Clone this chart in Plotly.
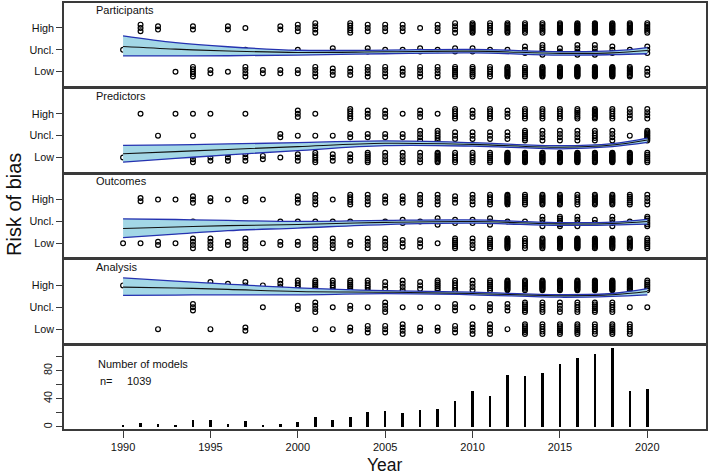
import plotly.graph_objects as go

FONT = "Liberation Sans, Arial, sans-serif"

years = list(range(1990, 2021))

# number of models per year (bottom panel)
n_models = [2, 5, 4, 3, 10, 10, 4, 8, 3, 4, 7, 14, 10, 14, 21, 22, 20, 23, 25, 37,
            50, 44, 74, 72, 76, 89, 98, 103, 111, 50, 53]

# risk-of-bias counts per year (1990..2020)
part_high = [0, 3, 2, 0, 2, 0, 2, 1, 0, 2, 3, 4, 0, 5, 3, 3, 3, 1, 3, 4, 8, 5, 8, 6, 6, 10, 12, 14, 12, 10, 6]
part_uncl = [1, 0, 0, 0, 0, 0, 1, 1, 0, 0, 1, 0, 2, 0, 2, 1, 1, 2, 1, 2, 2, 1, 1, 3, 5, 2, 4, 4, 3, 1, 3]
part_low = [0, 0, 0, 1, 5, 2, 1, 4, 2, 2, 2, 4, 3, 3, 4, 4, 3, 4, 4, 6, 6, 5, 10, 6, 10, 10, 14, 14, 14, 8, 3]

pred_high = [0, 1, 0, 1, 1, 1, 0, 1, 0, 0, 3, 1, 0, 5, 3, 3, 1, 3, 1, 5, 3, 5, 3, 5, 5, 5, 6, 8, 5, 4, 4]
pred_uncl = [0, 0, 1, 0, 1, 0, 0, 0, 0, 2, 1, 1, 1, 2, 2, 2, 2, 4, 5, 3, 3, 3, 3, 6, 4, 4, 4, 5, 4, 1, 8]
pred_low = [1, 1, 0, 0, 4, 3, 3, 3, 2, 1, 3, 5, 3, 3, 6, 4, 4, 4, 8, 5, 5, 6, 14, 10, 12, 12, 14, 12, 16, 10, 6]

out_high = [0, 2, 1, 1, 3, 2, 1, 2, 1, 0, 3, 4, 1, 5, 4, 3, 3, 4, 4, 3, 4, 5, 10, 6, 8, 8, 5, 8, 8, 6, 4]
out_uncl = [0, 0, 0, 0, 1, 0, 0, 0, 0, 1, 1, 1, 1, 1, 0, 1, 2, 1, 3, 2, 2, 3, 1, 1, 4, 6, 4, 2, 4, 1, 6]
out_low = [1, 1, 2, 1, 4, 4, 2, 4, 1, 2, 2, 4, 4, 2, 4, 4, 3, 3, 1, 6, 4, 6, 10, 5, 8, 10, 14, 10, 10, 8, 6]

ana_high = [1, 0, 0, 1, 1, 3, 2, 3, 1, 4, 5, 6, 5, 6, 5, 3, 4, 3, 6, 5, 4, 6, 12, 8, 12, 10, 12, 14, 14, 10, 6]
ana_uncl = [0, 0, 0, 0, 3, 0, 0, 0, 1, 0, 2, 4, 1, 2, 1, 4, 1, 1, 1, 3, 1, 3, 3, 6, 5, 4, 5, 6, 5, 1, 1]
ana_low = [0, 0, 1, 0, 0, 1, 0, 2, 0, 0, 0, 1, 1, 2, 3, 3, 4, 2, 2, 3, 4, 4, 1, 6, 5, 6, 6, 5, 6, 5, 0]

# smoothed trend and confidence band (Low=1, Uncl.=2, High=3)
fit_years = [1990, 1993, 1996, 2000, 2005, 2010, 2015, 2018, 2020]
part_fit = [2.15, 2.03, 1.95, 1.88, 1.91, 1.94, 1.84, 1.86, 1.97]
part_up = [2.64, 2.33, 2.14, 1.98, 1.99, 2.02, 1.92, 1.95, 2.10]
part_lo = [1.72, 1.72, 1.73, 1.76, 1.82, 1.86, 1.76, 1.78, 1.82]

pred_fit = [1.17, 1.27, 1.37, 1.50, 1.65, 1.60, 1.47, 1.57, 1.80]
pred_up = [1.56, 1.58, 1.62, 1.68, 1.76, 1.68, 1.54, 1.64, 1.89]
pred_lo = [0.79, 0.96, 1.12, 1.32, 1.54, 1.52, 1.40, 1.50, 1.69]

out_fit = [1.68, 1.75, 1.81, 1.86, 1.96, 2.00, 1.89, 1.91, 2.00]
out_up = [2.12, 2.09, 2.05, 2.00, 2.05, 2.07, 1.95, 1.97, 2.10]
out_lo = [1.26, 1.42, 1.58, 1.70, 1.86, 1.92, 1.82, 1.84, 1.88]

ana_fit = [2.92, 2.88, 2.82, 2.72, 2.69, 2.63, 2.53, 2.57, 2.72]
ana_up = [3.34, 3.20, 3.06, 2.89, 2.76, 2.69, 2.58, 2.63, 2.85]
ana_lo = [2.54, 2.56, 2.57, 2.57, 2.62, 2.57, 2.46, 2.50, 2.57]

panel_titles = ["Participants", "Predictors", "Outcomes", "Analysis"]
cat_labels = ["Low", "Uncl.", "High"]
year_ticks = [1990, 1995, 2000, 2005, 2010, 2015, 2020]
count_ticks = [0, 20, 40, 60, 80, 100]
count_ticktext = ["0", "", "40", "", "80", ""]

panels = [
    (part_low, part_uncl, part_high, part_fit, part_up, part_lo),
    (pred_low, pred_uncl, pred_high, pred_fit, pred_up, pred_lo),
    (out_low, out_uncl, out_high, out_fit, out_up, out_lo),
    (ana_low, ana_uncl, ana_high, ana_fit, ana_up, ana_lo),
]


def stack_offsets(n, step=0.15, hmax=0.22):
    if n <= 0:
        return []
    if n == 1:
        return [0.0]
    h = min(hmax, step * (n - 1) / 2)
    return [-h + 2 * h * k / (n - 1) for k in range(n)]


fig = go.Figure()

# layout geometry (pixels)
W, H = 709, 475
ML, MR, MT, MB = 64, 3, 3, 46
plot_h = H - MT - MB
gap = 3.1
ph = (plot_h - 4 * gap) / 5
domains = []
for i in range(5):
    top = i * (ph + gap)
    bot = top + ph
    domains.append([1 - bot / plot_h, 1 - top / plot_h])

BAND_FILL = "#A3D7E6"
BAND_EDGE = "#2532B0"
AX_COL = "#3a3a3a"

for i, (lo_c, un_c, hi_c, fit, up, low) in enumerate(panels):
    xa = "x" if i == 0 else f"x{i+1}"
    ya = "y" if i == 0 else f"y{i+1}"
    px, py = [], []
    for level, counts in ((1, lo_c), (2, un_c), (3, hi_c)):
        for yr, c in zip(years, counts):
            for off in stack_offsets(c):
                px.append(yr)
                py.append(level + off)
    fig.add_trace(go.Scatter(
        x=px, y=py, mode="markers", xaxis=xa, yaxis=ya,
        marker=dict(symbol="circle-open", size=4.8, color="black",
                    line=dict(width=1.2, color="black")),
        showlegend=False, hoverinfo="skip"))
    fig.add_trace(go.Scatter(
        x=fit_years, y=low, mode="lines", xaxis=xa, yaxis=ya,
        line=dict(color=BAND_EDGE, width=1.3, shape="spline"),
        showlegend=False, hoverinfo="skip"))
    fig.add_trace(go.Scatter(
        x=fit_years, y=up, mode="lines", xaxis=xa, yaxis=ya,
        fill="tonexty", fillcolor=BAND_FILL,
        line=dict(color=BAND_EDGE, width=1.3, shape="spline"),
        showlegend=False, hoverinfo="skip"))
    fig.add_trace(go.Scatter(
        x=fit_years, y=fit, mode="lines", xaxis=xa, yaxis=ya,
        line=dict(color="#111111", width=1.1, shape="spline"),
        showlegend=False, hoverinfo="skip"))

# bottom panel: number of models
fig.add_trace(go.Bar(
    x=years, y=n_models, xaxis="x5", yaxis="y5", width=0.15,
    marker=dict(color="black", line=dict(width=0)),
    showlegend=False, hoverinfo="skip"))

xrange = [1986.62, 2023.36]
layout = dict(
    width=W, height=H,
    margin=dict(l=ML, r=MR, t=MT, b=MB, autoexpand=False),
    paper_bgcolor="white", plot_bgcolor="white",
    font=dict(family=FONT, color="#111111", size=11),
    bargap=0,
)
for i in range(5):
    xk = "xaxis" if i == 0 else f"xaxis{i+1}"
    yk = "yaxis" if i == 0 else f"yaxis{i+1}"
    anchor_y = "y" if i == 0 else f"y{i+1}"
    anchor_x = "x" if i == 0 else f"x{i+1}"
    xa = dict(domain=[0, 1], range=xrange, anchor=anchor_y, automargin=False,
              showline=True, mirror=True, linecolor=AX_COL, linewidth=1.5,
              showgrid=False, zeroline=False, fixedrange=True)
    if i < 4:
        xa.update(showticklabels=False, ticks="")
    else:
        xa.update(tickvals=year_ticks, ticks="outside", ticklen=7, tickwidth=1,
                  tickcolor=AX_COL, tickfont=dict(size=11, family=FONT, color="#111111"))
    layout[xk] = xa
    ya = dict(domain=domains[i], anchor=anchor_x, automargin=False,
              showline=True, mirror=True, linecolor=AX_COL, linewidth=1.5,
              showgrid=False, zeroline=False, ticks="outside", ticklen=6,
              tickwidth=1, tickcolor=AX_COL, fixedrange=True)
    if i < 4:
        ya.update(range=[0.36, 4.14], tickvals=[1, 2, 3], ticktext=cat_labels,
                  tickfont=dict(size=10.8, family=FONT, color="#111111"))
    else:
        ya.update(range=[-3, 114.5], tickvals=count_ticks, ticktext=count_ticktext,
                  tickangle=-90, tickfont=dict(size=10.8, family=FONT, color="#111111"))
    layout[yk] = ya

annotations = []
for i, t in enumerate(panel_titles):
    xr = "x" if i == 0 else f"x{i+1}"
    yr = "y domain" if i == 0 else f"y{i+1} domain"
    annotations.append(dict(text=t, x=1988.34, y=1 - 6.8 / ph, xref=xr, yref=yr,
                            xanchor="left", yanchor="middle", showarrow=False,
                            font=dict(size=11, family=FONT, color="#111111")))
annotations += [
    dict(text="Number of models", x=1988.45, y=0.782, xref="x5", yref="y5 domain",
         xanchor="left", yanchor="middle", showarrow=False,
         font=dict(size=11, family=FONT, color="#111111")),
    dict(text="n=", x=1988.58, y=0.584, xref="x5", yref="y5 domain",
         xanchor="left", yanchor="middle", showarrow=False,
         font=dict(size=11, family=FONT, color="#111111")),
    dict(text=str(1039), x=1990.11, y=0.584, xref="x5", yref="y5 domain",
         xanchor="left", yanchor="middle", showarrow=False,
         font=dict(size=11, family=FONT, color="#111111")),
    dict(text="Risk of bias", x=(14 - ML) / (W - ML - MR), y=(429 - 205) / plot_h,
         xref="paper", yref="paper", textangle=-90, xanchor="center", yanchor="middle",
         showarrow=False, font=dict(size=20, family=FONT, color="#111111")),
    dict(text="Year", x=0.5, y=(429 - 465) / plot_h, xref="paper", yref="paper",
         xanchor="center", yanchor="middle", showarrow=False,
         font=dict(size=17.5, family=FONT, color="#111111")),
]
layout["annotations"] = annotations
fig.update_layout(**layout)

fig.write_html("out.html", config={"displayModeBar": False},
               post_script="document.body.style.margin='0';document.body.style.padding='0';")
